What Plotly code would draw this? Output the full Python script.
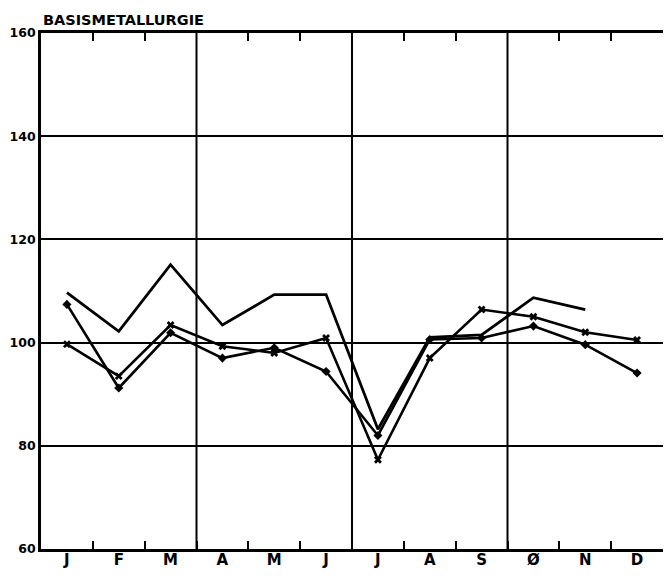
import plotly.graph_objects as go

months = [1, 2, 3, 4, 5, 6, 7, 8, 9, 10, 11, 12]
month_labels = ["J", "F", "M", "A", "M", "J", "J", "A", "S", "Ø", "N", "D"]

series_line = [109.7, 102.2, 115.1, 103.4, 109.3, 109.3, 83.2, 101.0, 101.5, 108.7, 106.4, None]
series_diamond = [107.4, 91.2, 101.9, 97.0, 99.0, 94.4, 82.0, 100.6, 100.9, 103.2, 99.6, 94.1]
series_x = [99.7, 93.5, 103.4, 99.3, 98.0, 100.9, 77.3, 97.0, 106.4, 105.0, 102.0, 100.5]

y_ticks = [60, 80, 100, 120, 140, 160]
quarter_bounds = [3.5, 6.5, 9.5]
month_bounds = [1.5, 2.5, 4.5, 5.5, 7.5, 8.5, 10.5, 11.5]

fig = go.Figure()
fig.add_trace(go.Scatter(x=months, y=series_line, mode="lines",
                         line=dict(color="black", width=2.8), connectgaps=False))
fig.add_trace(go.Scatter(x=months, y=series_diamond, mode="lines+markers",
                         line=dict(color="black", width=2.6),
                         marker=dict(symbol="diamond", size=7, color="black")))
fig.add_trace(go.Scatter(x=months, y=series_x, mode="lines+markers",
                         line=dict(color="black", width=2.6),
                         marker=dict(symbol="x", size=7, color="black")))
# invisible traces to activate the label axis and the top tick axis
fig.add_trace(go.Scatter(x=months, y=[None] * 12, xaxis="x2", mode="lines", showlegend=False, hoverinfo="skip"))
fig.add_trace(go.Scatter(x=months, y=[None] * 12, xaxis="x3", mode="lines", showlegend=False, hoverinfo="skip"))

tick_style = dict(ticks="inside", ticklen=8, tickwidth=2, tickcolor="black")

fig.update_layout(
    width=671, height=577,
    margin=dict(l=33, r=16, t=25, b=36),
    paper_bgcolor="white", plot_bgcolor="white",
    showlegend=False,
    font=dict(family="DejaVu Sans", color="black"),
    xaxis=dict(
        range=[0.5, 12.5], automargin=False,
        tickvals=month_bounds + quarter_bounds, ticktext=[""] * 11,
        showgrid=False,
        showline=True, linecolor="black", linewidth=2.6, mirror=True,
        zeroline=False, **tick_style,
    ),
    xaxis2=dict(
        overlaying="x", matches="x", side="bottom", automargin=False,
        tickvals=months, ticktext=month_labels,
        showgrid=False, showline=False, ticks="", zeroline=False,
        tickfont=dict(family="DejaVu Sans", size=15, color="black", weight="bold"),
    ),
    xaxis3=dict(
        overlaying="x", matches="x", side="top", automargin=False,
        tickvals=month_bounds, showticklabels=False,
        showgrid=False, showline=False, zeroline=False, **tick_style,
    ),
    yaxis=dict(
        range=[60, 160], automargin=False,
        tickvals=y_ticks, ticktext=[str(v) for v in y_ticks],
        showgrid=True, gridcolor="black", gridwidth=2,
        ticks="", showline=True, linecolor="black", linewidth=2.6, mirror=True,
        zeroline=False,
        tickfont=dict(family="DejaVu Sans", size=12.5, color="black", weight="bold"),
    ),
    shapes=[dict(type="line", xref="x", yref="paper", x0=q, x1=q, y0=0, y1=1,
                 line=dict(color="black", width=2), layer="above") for q in quarter_bounds],
    annotations=[dict(
        text="BASISMETALLURGIE", xref="paper", yref="paper", x=0, y=1,
        xanchor="left", yanchor="bottom", yshift=3, showarrow=False,
        font=dict(family="DejaVu Sans", size=14.5, color="black", weight="bold"),
    )],
)

fig.write_html("out.html")
